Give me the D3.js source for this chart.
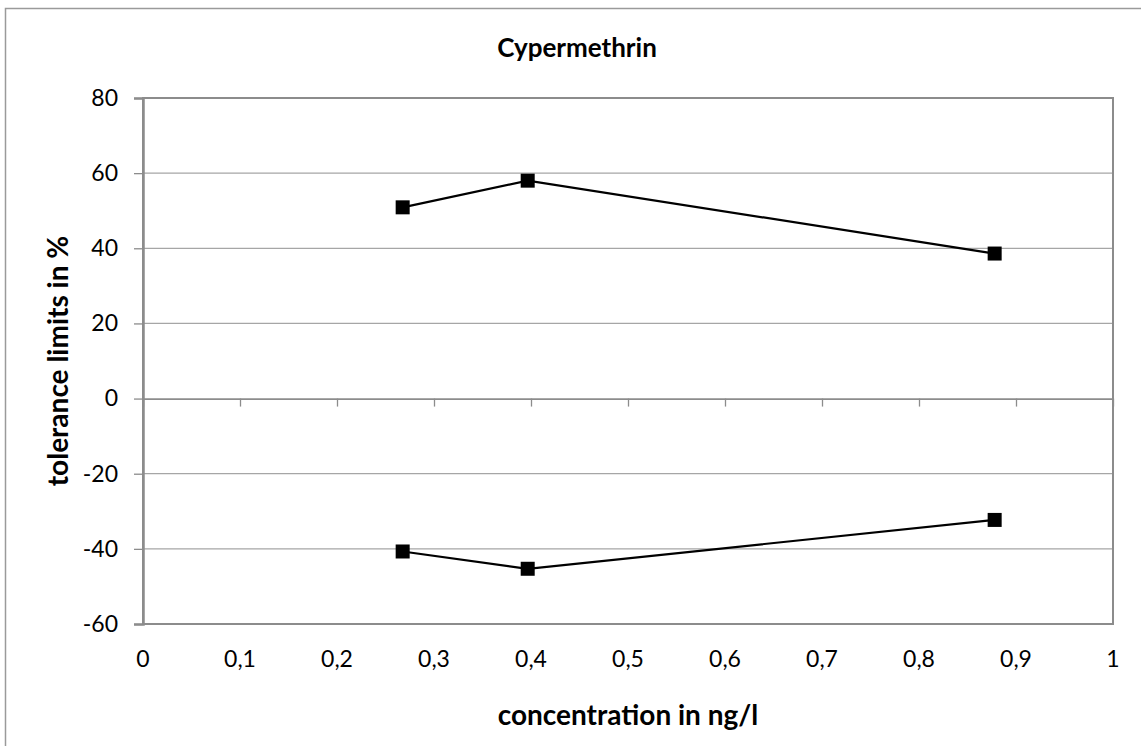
<!DOCTYPE html>
<html><head><meta charset="utf-8">
<script src="https://cdn.jsdelivr.net/npm/d3@7"></script>
<style>body{margin:0;background:#fff}svg{display:block}</style>
</head><body>
<script>
const title = "Cypermethrin";
const xLabel = "concentration in ng/l";
const yLabel = "tolerance limits in %";
const concentrations = [0.2677, 0.3966, 0.878];
const upperLimit = [50.9, 58.0, 38.6];
const lowerLimit = [-40.7, -45.3, -32.3];
const xTicks = [0, 0.1, 0.2, 0.3, 0.4, 0.5, 0.6, 0.7, 0.8, 0.9, 1];
const yTicks = [-60, -40, -20, 0, 20, 40, 60, 80];

const W = 1141, H = 746;
const font = "Lato, 'Open Sans', sans-serif";
const svg = d3.select("body").append("svg").attr("width", W).attr("height", H);

// outer frame
svg.append("path").attr("d", `M5.5,${H} V8.5 H${W}`).attr("fill","none").attr("stroke","#9a9a9a").attr("stroke-width",1.5);

const L = 143, R = 1113, T = 98, B = 624;
const x = d3.scaleLinear().domain([0, 1]).range([L, R]);
const y = d3.scaleLinear().domain([-60, 80]).range([B, T]);

// gridlines
svg.append("g").selectAll("line").data(yTicks.filter(d => d !== -60 && d !== 0)).join("line")
  .attr("x1", L).attr("x2", R).attr("y1", d => y(d)).attr("y2", d => y(d))
  .attr("stroke", "#a6a6a6").attr("stroke-width", 1.3);

// plot border
svg.append("rect").attr("x", L).attr("y", T).attr("width", R - L).attr("height", B - T)
  .attr("fill", "none").attr("stroke", "#8c8c8c").attr("stroke-width", 2);

// y axis
const yAxis = d3.axisLeft(y).tickValues(yTicks).tickSize(9).tickPadding(16).tickFormat(d => String(d));
const gy = svg.append("g").attr("transform", `translate(${L},0)`).call(yAxis);
gy.select(".domain").attr("stroke", "#8c8c8c").attr("stroke-width", 2.5);
gy.selectAll(".tick line").attr("stroke", "#8c8c8c").attr("stroke-width", 1.3);
gy.selectAll("text").attr("font-family", font).attr("font-size", 23).attr("fill", "#000");

// x axis at zero (ticks)
const xAxis = d3.axisBottom(x).tickValues(xTicks).tickSize(8).tickSizeOuter(0).tickFormat(() => "");
const gx = svg.append("g").attr("transform", `translate(0,${y(0)})`).call(xAxis);
gx.select(".domain").attr("stroke", "#8c8c8c").attr("stroke-width", 1.8);
gx.selectAll(".tick line").attr("stroke", "#8c8c8c").attr("stroke-width", 1.3);

// x tick labels at bottom
const fmt = d => String(d).replace(".", ",");
svg.append("g").selectAll("text").data(xTicks).join("text")
  .attr("x", d => x(d)).attr("y", 667).attr("text-anchor", "middle")
  .attr("font-family", font).attr("font-size", 23).attr("fill", "#000").text(fmt);

// series
const line = d3.line().x(d => x(d[0])).y(d => y(d[1]));
[upperLimit, lowerLimit].forEach(vals => {
  const pts = concentrations.map((c, i) => [c, vals[i]]);
  svg.append("path").datum(pts).attr("d", line).attr("fill", "none").attr("stroke", "#000").attr("stroke-width", 2.2);
  svg.append("g").selectAll("rect").data(pts).join("rect")
    .attr("x", d => x(d[0]) - 7).attr("y", d => y(d[1]) - 7).attr("width", 14).attr("height", 14).attr("fill", "#000");
});

// titles
svg.append("text").attr("x", 577).attr("y", 57).attr("text-anchor", "middle")
  .attr("font-family", font).attr("font-weight", "bold").attr("font-size", 26).text(title);
svg.append("text").attr("x", (L + R) / 2).attr("y", 725).attr("text-anchor", "middle")
  .attr("font-family", font).attr("font-weight", "bold").attr("font-size", 28).text(xLabel);
svg.append("text").attr("transform", `translate(68,${(T + B) / 2}) rotate(-90)`).attr("text-anchor", "middle")
  .attr("font-family", font).attr("font-weight", "bold").attr("font-size", 28).text(yLabel);
</script>
</body></html>
